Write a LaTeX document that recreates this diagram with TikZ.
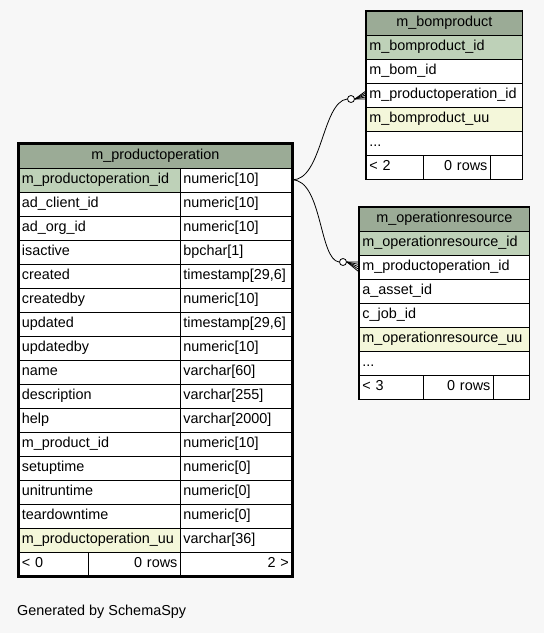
\documentclass[tikz,border=0pt]{standalone}
\usepackage{fontspec}
\setmainfont{Liberation Sans}
\definecolor{headgreen}{HTML}{9BAB96}
\definecolor{pkgreen}{HTML}{BED1B8}
\definecolor{idxyellow}{HTML}{F4F7DA}
\definecolor{pagebg}{HTML}{F7F7F7}
\newcommand\moredots{...}
\begin{document}
\begin{tikzpicture}[x=1pt,y=-1pt,
  cell/.style={draw,line width=0.8pt,anchor=north west,minimum height=24pt,inner xsep=3pt,inner ysep=0pt,text height=10.5pt,text depth=3pt,align=left,font=\fontsize{14.4}{16}\selectfont},
  head/.style={cell,fill=headgreen,align=center},
  pk/.style={fill=pkgreen},idx/.style={fill=idxyellow},plain/.style={fill=white},
  odot/.style={draw,circle,fill=white,minimum size=7pt,inner sep=0pt,line width=0.8pt},
  link/.style={line width=0.8pt}]
\fill[pagebg] (0,0) rectangle (544,633);
\useasboundingbox (0,0) rectangle (544,633);
% m_productoperation
\node[head,text width=267pt] (po-head) at (18.5,143.5) {m\_productoperation};
\foreach \i/\col/\typ/\s in {1/m\_productoperation\_id/numeric[10]/pk,2/ad\_client\_id/numeric[10]/plain,
  3/ad\_org\_id/numeric[10]/plain,4/isactive/bpchar[1]/plain,5/created/{timestamp[29,6]}/plain,
  6/createdby/numeric[10]/plain,7/updated/{timestamp[29,6]}/plain,8/updatedby/numeric[10]/plain,
  9/name/varchar[60]/plain,10/description/varchar[255]/plain,11/help/varchar[2000]/plain,
  12/m\_product\_id/numeric[10]/plain,13/setuptime/numeric[0]/plain,14/unitruntime/numeric[0]/plain,
  15/teardowntime/numeric[0]/plain,16/m\_productoperation\_uu/varchar[36]/idx}{
  \node[cell,\s,text width=155.5pt] (po-c\i) at (18.5,{143.5+24*\i}) {\col};
  \node[cell,plain,text width=105.5pt] (po-t\i) at (180,{143.5+24*\i}) {\typ};
}
\node[cell,plain,text width=63.5pt] (po-f1) at (18.5,551.5) {< 0};
\node[cell,plain,text width=86pt,align=right] (po-f2) at (88,551.5) {0 rows};
\node[cell,plain,text width=105.5pt,align=right] (po-f3) at (180,551.5) {2 >};
\draw[line width=3pt] (po-head.north west) rectangle (po-f3.south east);
% m_bomproduct
\node[head,text width=150pt] (bp-head) at (366,10.5) {m\_bomproduct};
\foreach \i/\col/\s in {1/m\_bomproduct\_id/pk,2/m\_bom\_id/plain,3/m\_productoperation\_id/plain,
  4/m\_bomproduct\_uu/idx,5/\moredots/plain}
  \node[cell,\s,text width=150pt] (bp-c\i) at (366,{10.5+24*\i}) {\col};
\node[cell,plain,text width=51pt] (bp-f1) at (366,154.5) {< 2};
\node[cell,plain,text width=61pt,align=right] (bp-f2) at (423,154.5) {0 rows};
\node[cell,plain,text width=26pt] (bp-f3) at (490,154.5) {};
\draw[line width=1.2pt] (bp-head.north west) rectangle (bp-f3.south east);
% m_operationresource
\node[head,text width=164pt] (or-head) at (359,206.5) {m\_operationresource};
\foreach \i/\col/\s in {1/m\_operationresource\_id/pk,2/m\_productoperation\_id/plain,3/a\_asset\_id/plain,
  4/c\_job\_id/plain,5/m\_operationresource\_uu/idx,6/\moredots/plain}
  \node[cell,\s,text width=164pt] (or-c\i) at (359,{206.5+24*\i}) {\col};
\node[cell,plain,text width=58pt] (or-f1) at (359,374.5) {< 3};
\node[cell,plain,text width=64pt,align=right] (or-f2) at (423,374.5) {0 rows};
\node[cell,plain,text width=30pt] (or-f3) at (493,374.5) {};
\draw[line width=1.2pt] (or-head.north west) rectangle (or-f3.south east);
% links
\node[odot] (bp-dot) at (351,99) {};
\draw[link] (po-t1.east) .. controls +(30,0) and +(-25,3) .. (bp-dot.west);
\foreach \d in {-4,-2,0,2,4}
  \draw[link] (bp-dot.east) -- ([yshift=\d pt]bp-c3.west);
\node[odot] (or-dot) at (343,262) {};
\draw[link] (po-t1.east) .. controls +(30,0) and +(-20,-2) .. (or-dot.west);
\foreach \d in {-5,-2.5,0,2.5,5}
  \draw[link] (or-dot.east) -- ([yshift=\d pt]or-c2.west);
\node[anchor=west,font=\fontsize{14.4}{16}\selectfont,inner sep=0pt] (credit) at (17,612) {Generated by SchemaSpy};
\end{tikzpicture}
\end{document}
